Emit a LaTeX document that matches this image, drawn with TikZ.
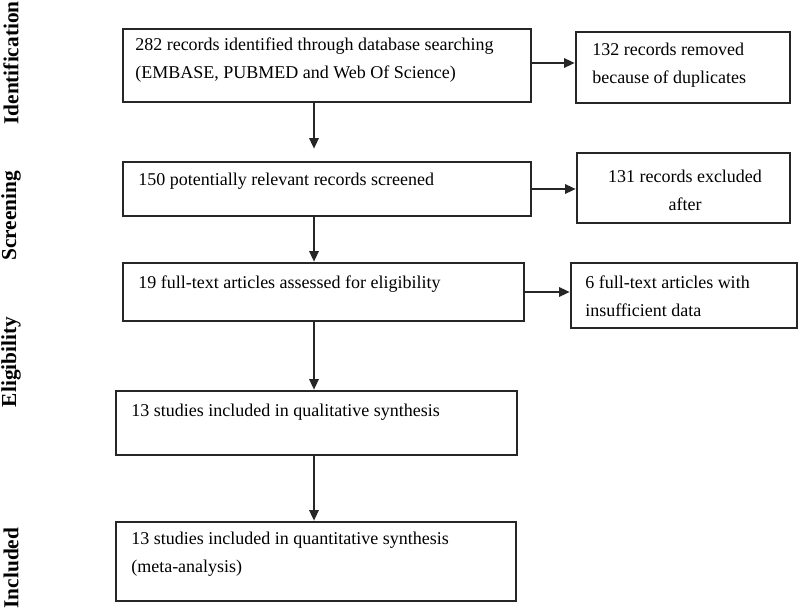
\documentclass[tikz,border=0pt]{standalone}
\usepackage{fontspec}
\setmainfont{Liberation Serif}
\usetikzlibrary{arrows.meta,fit}
\begin{document}
\begin{tikzpicture}[x=0.75pt,y=-0.75pt,
  box/.style={draw=black!85, line width=1.9pt, inner sep=0pt, rectangle},
  txt/.style={anchor=west, inner sep=0pt, font=\fontsize{13.5}{21}\selectfont, align=left},
  ctxt/.style={inner sep=0pt, font=\fontsize{13.5}{21}\selectfont, align=center},
  phase/.style={rotate=90, font=\fontsize{16}{18}\selectfont\bfseries, inner sep=0pt},
  arr/.style={draw=black!85, line width=1.6pt, -{Triangle[length=8pt,width=7pt]}}]
\useasboundingbox (0,0) rectangle (800,616);
\fill[white] (0,0) rectangle (800,616);
% phase labels
\node[phase] (pid) at (11,63) {Identification};
\node[phase] (psc) at (11,216) {Screening};
\node[phase] (pel) at (11,362) {Eligibility};
\node[phase] (pin) at (11,568) {Included};
% main boxes
\node[box, fit={(123,29)(531,102)}] (b1) {};
\node[box, fit={(123,162)(531,216)}] (b2) {};
\node[box, fit={(123,263)(524,321)}] (b3) {};
\node[box, fit={(116,391)(517,455)}] (b4) {};
\node[box, fit={(116,522)(516,601)}] (b5) {};
% side boxes
\node[box, fit={(576,32)(790,103)}] (r1) {};
\node[box, fit={(577,153)(790,223)}] (r2) {};
\node[box, fit={(571,263)(797,328)}] (r3) {};
% texts
\node[txt] (t1) at (135,60) {282 records identified through database searching\\(EMBASE, PUBMED and Web Of Science)};
\node[txt] (t2) at (138,181) {150 potentially relevant records screened};
\node[txt] (t3) at (138,284) {19 full-text articles assessed for eligibility};
\node[txt] (t4) at (131,412) {13 studies included in qualitative synthesis};
\node[txt] (t5) at (131,554) {13 studies included in quantitative synthesis\\(meta-analysis)};
\node[txt] (s1) at (592,65) {132 records removed\\because of duplicates};
\node[ctxt] (s2) at (685,190) {131 records excluded\\after};
\node[txt] (s3) at (585,296) {6 full-text articles with\\insufficient data};
% connectors
\coordinate (cx) at (314,0);
\coordinate (y1) at (0,63);
\draw[arr] (b1.east |- y1) -- (r1.west |- y1);
\draw[arr, shorten >=9pt] (b1.south -| cx) -- (b2.north -| cx);
\draw[arr] (b2.east) -- (r2.west |- b2.east);
\draw[arr] (b2.south -| cx) -- (b3.north -| cx);
\draw[arr] (b3.east) -- (r3.west |- b3.east);
\draw[arr] (b3.south -| cx) -- (b4.north -| cx);
\draw[arr] (b4.south -| cx) -- (b5.north -| cx);
\end{tikzpicture}
\end{document}
